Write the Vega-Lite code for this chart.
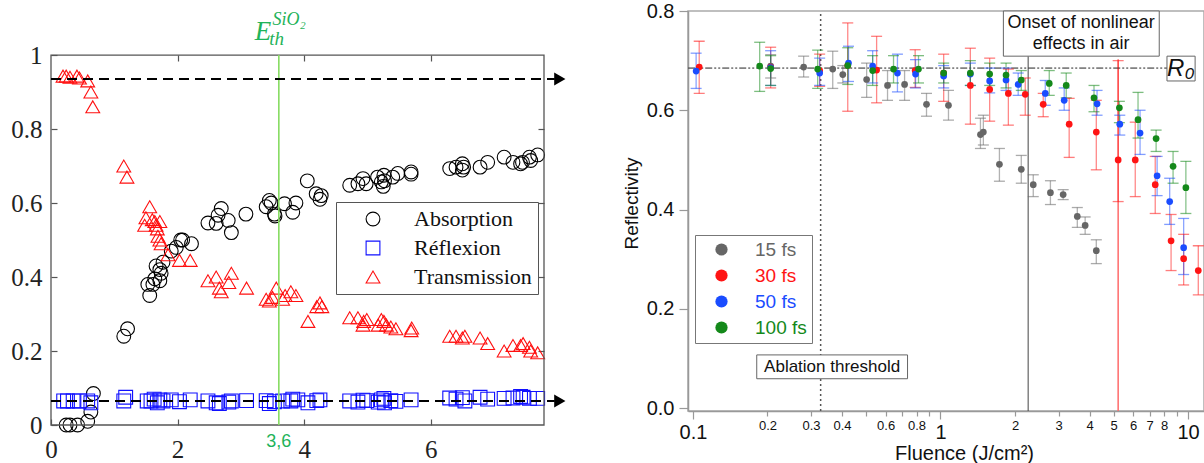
{
"$schema": "https://vega.github.io/schema/vega-lite/v6.json",
"padding": {"left": 10, "top": 0, "right": 0, "bottom": 0},
"spacing": 55,
"background": "white",
"config": {"font": "Liberation Sans"},
"datasets": {
"left": [
{"s":"Absorption","x":0.24,"y":0},{"s":"Absorption","x":0.3,"y":0},{"s":"Absorption","x":0.42,"y":0},{"s":"Absorption","x":0.58,"y":0.01},{"s":"Absorption","x":0.63,"y":0.035},{"s":"Absorption","x":0.67,"y":0.085},
{"s":"Absorption","x":1.15,"y":0.24},{"s":"Absorption","x":1.21,"y":0.26},
{"s":"Absorption","x":1.53,"y":0.38},{"s":"Absorption","x":1.56,"y":0.35},{"s":"Absorption","x":1.61,"y":0.38},{"s":"Absorption","x":1.64,"y":0.395},{"s":"Absorption","x":1.66,"y":0.43},{"s":"Absorption","x":1.72,"y":0.42},{"s":"Absorption","x":1.74,"y":0.41},{"s":"Absorption","x":1.77,"y":0.44},{"s":"Absorption","x":1.72,"y":0.39},{"s":"Absorption","x":1.9,"y":0.47},{"s":"Absorption","x":1.98,"y":0.48},{"s":"Absorption","x":2.05,"y":0.5},{"s":"Absorption","x":2.08,"y":0.5},{"s":"Absorption","x":2.22,"y":0.49},
{"s":"Absorption","x":2.48,"y":0.546},{"s":"Absorption","x":2.61,"y":0.545},{"s":"Absorption","x":2.64,"y":0.567},{"s":"Absorption","x":2.69,"y":0.585},{"s":"Absorption","x":2.8,"y":0.553},{"s":"Absorption","x":2.85,"y":0.52},{"s":"Absorption","x":3.08,"y":0.57},
{"s":"Absorption","x":3.4,"y":0.59},{"s":"Absorption","x":3.45,"y":0.607},{"s":"Absorption","x":3.48,"y":0.6},{"s":"Absorption","x":3.53,"y":0.57},{"s":"Absorption","x":3.54,"y":0.565},{"s":"Absorption","x":3.69,"y":0.598},{"s":"Absorption","x":3.82,"y":0.575},{"s":"Absorption","x":3.87,"y":0.6},
{"s":"Absorption","x":4.05,"y":0.66},{"s":"Absorption","x":4.19,"y":0.625},{"s":"Absorption","x":4.25,"y":0.61},{"s":"Absorption","x":4.27,"y":0.62},
{"s":"Absorption","x":4.72,"y":0.648},{"s":"Absorption","x":4.85,"y":0.652},{"s":"Absorption","x":4.93,"y":0.666},{"s":"Absorption","x":4.98,"y":0.652},{"s":"Absorption","x":5.16,"y":0.67},{"s":"Absorption","x":5.22,"y":0.657},{"s":"Absorption","x":5.26,"y":0.675},{"s":"Absorption","x":5.27,"y":0.66},{"s":"Absorption","x":5.25,"y":0.645},{"s":"Absorption","x":5.4,"y":0.67},{"s":"Absorption","x":5.48,"y":0.68},{"s":"Absorption","x":5.69,"y":0.684},{"s":"Absorption","x":5.69,"y":0.678},
{"s":"Absorption","x":6.3,"y":0.693},{"s":"Absorption","x":6.4,"y":0.697},{"s":"Absorption","x":6.5,"y":0.706},{"s":"Absorption","x":6.5,"y":0.689},{"s":"Absorption","x":6.52,"y":0.697},{"s":"Absorption","x":6.78,"y":0.697},{"s":"Absorption","x":6.9,"y":0.71},{"s":"Absorption","x":7.16,"y":0.724},{"s":"Absorption","x":7.3,"y":0.71},{"s":"Absorption","x":7.42,"y":0.706},{"s":"Absorption","x":7.45,"y":0.71},{"s":"Absorption","x":7.56,"y":0.724},{"s":"Absorption","x":7.58,"y":0.715},{"s":"Absorption","x":7.69,"y":0.73},
{"s":"Réflexion","x":0.2,"y":0.065},{"s":"Réflexion","x":0.26,"y":0.065},{"s":"Réflexion","x":0.35,"y":0.065},{"s":"Réflexion","x":0.45,"y":0.065},{"s":"Réflexion","x":0.58,"y":0.065},{"s":"Réflexion","x":0.63,"y":0.06},{"s":"Réflexion","x":1.18,"y":0.075},{"s":"Réflexion","x":1.15,"y":0.065},{"s":"Réflexion","x":1.52,"y":0.065},{"s":"Réflexion","x":1.58,"y":0.065},{"s":"Réflexion","x":1.63,"y":0.07},{"s":"Réflexion","x":1.68,"y":0.06},{"s":"Réflexion","x":1.72,"y":0.068},{"s":"Réflexion","x":1.77,"y":0.065},{"s":"Réflexion","x":1.9,"y":0.068},{"s":"Réflexion","x":2.03,"y":0.063},{"s":"Réflexion","x":2.2,"y":0.068},{"s":"Réflexion","x":2.48,"y":0.065},{"s":"Réflexion","x":2.61,"y":0.06},{"s":"Réflexion","x":2.66,"y":0.058},{"s":"Réflexion","x":2.81,"y":0.062},{"s":"Réflexion","x":2.85,"y":0.065},{"s":"Réflexion","x":3.09,"y":0.066},{"s":"Réflexion","x":3.4,"y":0.066},{"s":"Réflexion","x":3.45,"y":0.058},{"s":"Réflexion","x":3.53,"y":0.063},{"s":"Réflexion","x":3.66,"y":0.065},{"s":"Réflexion","x":3.82,"y":0.07},{"s":"Réflexion","x":3.79,"y":0.065},{"s":"Réflexion","x":3.9,"y":0.068},{"s":"Réflexion","x":4.06,"y":0.06},{"s":"Réflexion","x":4.2,"y":0.066},{"s":"Réflexion","x":4.25,"y":0.068},{"s":"Réflexion","x":4.72,"y":0.065},{"s":"Réflexion","x":4.85,"y":0.062},{"s":"Réflexion","x":4.93,"y":0.067},{"s":"Réflexion","x":4.99,"y":0.066},{"s":"Réflexion","x":5.17,"y":0.062},{"s":"Réflexion","x":5.22,"y":0.068},{"s":"Réflexion","x":5.26,"y":0.072},{"s":"Réflexion","x":5.27,"y":0.06},{"s":"Réflexion","x":5.37,"y":0.066},{"s":"Réflexion","x":5.45,"y":0.064},{"s":"Réflexion","x":5.69,"y":0.068},{"s":"Réflexion","x":6.3,"y":0.073},{"s":"Réflexion","x":6.4,"y":0.07},{"s":"Réflexion","x":6.5,"y":0.074},{"s":"Réflexion","x":6.54,"y":0.065},{"s":"Réflexion","x":6.78,"y":0.075},{"s":"Réflexion","x":6.9,"y":0.07},{"s":"Réflexion","x":7.16,"y":0.072},{"s":"Réflexion","x":7.3,"y":0.073},{"s":"Réflexion","x":7.42,"y":0.077},{"s":"Réflexion","x":7.46,"y":0.075},{"s":"Réflexion","x":7.56,"y":0.072},{"s":"Réflexion","x":7.69,"y":0.072},
{"s":"Transmission","x":0.19,"y":0.943},{"s":"Transmission","x":0.24,"y":0.943},{"s":"Transmission","x":0.3,"y":0.94},{"s":"Transmission","x":0.41,"y":0.943},{"s":"Transmission","x":0.45,"y":0.938},{"s":"Transmission","x":0.58,"y":0.93},{"s":"Transmission","x":0.63,"y":0.9},{"s":"Transmission","x":0.66,"y":0.86},
{"s":"Transmission","x":1.15,"y":0.7},{"s":"Transmission","x":1.2,"y":0.67},
{"s":"Transmission","x":1.56,"y":0.59},{"s":"Transmission","x":1.5,"y":0.56},{"s":"Transmission","x":1.6,"y":0.555},{"s":"Transmission","x":1.64,"y":0.55},{"s":"Transmission","x":1.72,"y":0.55},{"s":"Transmission","x":1.68,"y":0.53},{"s":"Transmission","x":1.48,"y":0.54},{"s":"Transmission","x":1.66,"y":0.54},{"s":"Transmission","x":1.69,"y":0.51},{"s":"Transmission","x":1.72,"y":0.5},{"s":"Transmission","x":1.74,"y":0.49},{"s":"Transmission","x":1.85,"y":0.46},{"s":"Transmission","x":2.03,"y":0.445},{"s":"Transmission","x":2.2,"y":0.445},
{"s":"Transmission","x":2.48,"y":0.39},{"s":"Transmission","x":2.61,"y":0.4},{"s":"Transmission","x":2.66,"y":0.37},{"s":"Transmission","x":2.69,"y":0.36},{"s":"Transmission","x":2.81,"y":0.385},{"s":"Transmission","x":2.85,"y":0.41},{"s":"Transmission","x":3.09,"y":0.37},
{"s":"Transmission","x":3.4,"y":0.34},{"s":"Transmission","x":3.45,"y":0.335},{"s":"Transmission","x":3.5,"y":0.345},{"s":"Transmission","x":3.56,"y":0.37},{"s":"Transmission","x":3.66,"y":0.34},{"s":"Transmission","x":3.79,"y":0.36},{"s":"Transmission","x":3.87,"y":0.35},{"s":"Transmission","x":3.7,"y":0.35},
{"s":"Transmission","x":4.06,"y":0.28},{"s":"Transmission","x":4.2,"y":0.32},{"s":"Transmission","x":4.25,"y":0.33},{"s":"Transmission","x":4.28,"y":0.32},
{"s":"Transmission","x":4.72,"y":0.29},{"s":"Transmission","x":4.85,"y":0.29},{"s":"Transmission","x":4.94,"y":0.28},{"s":"Transmission","x":4.99,"y":0.285},{"s":"Transmission","x":4.93,"y":0.27},{"s":"Transmission","x":5.17,"y":0.27},{"s":"Transmission","x":5.22,"y":0.285},{"s":"Transmission","x":5.26,"y":0.28},{"s":"Transmission","x":5.3,"y":0.27},{"s":"Transmission","x":5.37,"y":0.265},{"s":"Transmission","x":5.45,"y":0.26},{"s":"Transmission","x":5.69,"y":0.255},{"s":"Transmission","x":5.7,"y":0.262},
{"s":"Transmission","x":6.3,"y":0.24},{"s":"Transmission","x":6.4,"y":0.24},{"s":"Transmission","x":6.5,"y":0.235},{"s":"Transmission","x":6.54,"y":0.24},{"s":"Transmission","x":6.78,"y":0.235},{"s":"Transmission","x":6.9,"y":0.22},{"s":"Transmission","x":7.16,"y":0.2},{"s":"Transmission","x":7.3,"y":0.215},{"s":"Transmission","x":7.42,"y":0.215},{"s":"Transmission","x":7.46,"y":0.22},{"s":"Transmission","x":7.56,"y":0.21},{"s":"Transmission","x":7.58,"y":0.2},{"s":"Transmission","x":7.69,"y":0.195}
],
"refl": [
{"d":"15 fs","f":0.206,"r":0.689,"lo":0.665,"hi":0.712},{"d":"15 fs","f":0.28,"r":0.687,"lo":0.667,"hi":0.709},{"d":"15 fs","f":0.367,"r":0.683,"lo":0.644,"hi":0.719},{"d":"15 fs","f":0.403,"r":0.672,"lo":0.655,"hi":0.69},{"d":"15 fs","f":0.503,"r":0.662,"lo":0.626,"hi":0.695},{"d":"15 fs","f":0.611,"r":0.65,"lo":0.62,"hi":0.68},{"d":"15 fs","f":0.716,"r":0.652,"lo":0.62,"hi":0.68},{"d":"15 fs","f":0.878,"r":0.612,"lo":0.588,"hi":0.634},{"d":"15 fs","f":1.077,"r":0.61,"lo":0.58,"hi":0.64},{"d":"15 fs","f":1.45,"r":0.551,"lo":0.523,"hi":0.584},{"d":"15 fs","f":1.49,"r":0.556,"lo":0.53,"hi":0.59},{"d":"15 fs","f":1.73,"r":0.491,"lo":0.457,"hi":0.523},{"d":"15 fs","f":2.12,"r":0.481,"lo":0.453,"hi":0.509},{"d":"15 fs","f":2.37,"r":0.45,"lo":0.426,"hi":0.47},{"d":"15 fs","f":2.78,"r":0.434,"lo":0.41,"hi":0.458},{"d":"15 fs","f":3.13,"r":0.43,"lo":0.42,"hi":0.44},{"d":"15 fs","f":3.57,"r":0.386,"lo":0.364,"hi":0.404},{"d":"15 fs","f":3.84,"r":0.368,"lo":0.35,"hi":0.385},{"d":"15 fs","f":4.26,"r":0.317,"lo":0.291,"hi":0.339},
{"d":"30 fs","f":0.106,"r":0.687,"lo":0.634,"hi":0.739},{"d":"30 fs","f":0.206,"r":0.687,"lo":0.645,"hi":0.727},{"d":"30 fs","f":0.325,"r":0.68,"lo":0.648,"hi":0.713},{"d":"30 fs","f":0.422,"r":0.69,"lo":0.598,"hi":0.776},{"d":"30 fs","f":0.552,"r":0.681,"lo":0.615,"hi":0.749},{"d":"30 fs","f":0.79,"r":0.68,"lo":0.646,"hi":0.722},{"d":"30 fs","f":1.03,"r":0.675,"lo":0.618,"hi":0.713},{"d":"30 fs","f":1.32,"r":0.65,"lo":0.572,"hi":0.725},{"d":"30 fs","f":1.58,"r":0.642,"lo":0.578,"hi":0.705},{"d":"30 fs","f":1.88,"r":0.634,"lo":0.57,"hi":0.683},{"d":"30 fs","f":2.2,"r":0.632,"lo":0.59,"hi":0.665},{"d":"30 fs","f":2.6,"r":0.612,"lo":0.587,"hi":0.634},{"d":"30 fs","f":3.31,"r":0.572,"lo":0.505,"hi":0.624},{"d":"30 fs","f":4.26,"r":0.556,"lo":0.48,"hi":0.62},{"d":"30 fs","f":5.22,"r":0.5,"lo":0.416,"hi":0.7},{"d":"30 fs","f":6.12,"r":0.5,"lo":0.426,"hi":0.576},{"d":"30 fs","f":7.37,"r":0.45,"lo":0.392,"hi":0.507},{"d":"30 fs","f":8.54,"r":0.337,"lo":0.277,"hi":0.39},{"d":"30 fs","f":9.6,"r":0.301,"lo":0.248,"hi":0.35},{"d":"30 fs","f":11.0,"r":0.277,"lo":0.228,"hi":0.327},
{"d":"50 fs","f":0.103,"r":0.679,"lo":0.644,"hi":0.715},{"d":"50 fs","f":0.206,"r":0.686,"lo":0.65,"hi":0.72},{"d":"50 fs","f":0.325,"r":0.675,"lo":0.65,"hi":0.705},{"d":"50 fs","f":0.425,"r":0.695,"lo":0.658,"hi":0.729},{"d":"50 fs","f":0.532,"r":0.689,"lo":0.655,"hi":0.72},{"d":"50 fs","f":0.67,"r":0.675,"lo":0.637,"hi":0.713},{"d":"50 fs","f":0.793,"r":0.673,"lo":0.645,"hi":0.702},{"d":"50 fs","f":1.03,"r":0.669,"lo":0.645,"hi":0.69},{"d":"50 fs","f":1.32,"r":0.673,"lo":0.65,"hi":0.695},{"d":"50 fs","f":1.58,"r":0.659,"lo":0.635,"hi":0.685},{"d":"50 fs","f":1.84,"r":0.661,"lo":0.64,"hi":0.685},{"d":"50 fs","f":2.06,"r":0.652,"lo":0.63,"hi":0.675},{"d":"50 fs","f":2.65,"r":0.634,"lo":0.61,"hi":0.66},{"d":"50 fs","f":3.16,"r":0.62,"lo":0.6,"hi":0.645},{"d":"50 fs","f":4.29,"r":0.613,"lo":0.59,"hi":0.64},{"d":"50 fs","f":5.3,"r":0.572,"lo":0.55,"hi":0.59},{"d":"50 fs","f":6.4,"r":0.554,"lo":0.511,"hi":0.6},{"d":"50 fs","f":7.5,"r":0.468,"lo":0.428,"hi":0.507},{"d":"50 fs","f":8.43,"r":0.416,"lo":0.37,"hi":0.463},{"d":"50 fs","f":9.6,"r":0.323,"lo":0.269,"hi":0.382},
{"d":"100 fs","f":0.186,"r":0.689,"lo":0.638,"hi":0.737},{"d":"100 fs","f":0.206,"r":0.684,"lo":0.65,"hi":0.71},{"d":"100 fs","f":0.319,"r":0.683,"lo":0.644,"hi":0.721},{"d":"100 fs","f":0.422,"r":0.69,"lo":0.652,"hi":0.726},{"d":"100 fs","f":0.532,"r":0.68,"lo":0.65,"hi":0.71},{"d":"100 fs","f":0.646,"r":0.683,"lo":0.655,"hi":0.71},{"d":"100 fs","f":0.815,"r":0.683,"lo":0.655,"hi":0.71},{"d":"100 fs","f":1.03,"r":0.675,"lo":0.655,"hi":0.695},{"d":"100 fs","f":1.32,"r":0.675,"lo":0.65,"hi":0.7},{"d":"100 fs","f":1.58,"r":0.673,"lo":0.65,"hi":0.695},{"d":"100 fs","f":1.84,"r":0.671,"lo":0.645,"hi":0.695},{"d":"100 fs","f":2.12,"r":0.661,"lo":0.64,"hi":0.68},{"d":"100 fs","f":2.75,"r":0.654,"lo":0.63,"hi":0.68},{"d":"100 fs","f":3.22,"r":0.65,"lo":0.625,"hi":0.675},{"d":"100 fs","f":4.17,"r":0.625,"lo":0.597,"hi":0.65},{"d":"100 fs","f":5.28,"r":0.605,"lo":0.575,"hi":0.618},{"d":"100 fs","f":6.28,"r":0.581,"lo":0.544,"hi":0.636},{"d":"100 fs","f":7.43,"r":0.543,"lo":0.517,"hi":0.56},{"d":"100 fs","f":8.7,"r":0.487,"lo":0.453,"hi":0.517},{"d":"100 fs","f":9.8,"r":0.444,"lo":0.392,"hi":0.497}
]
},
"resolve": {"scale": {"color": "independent", "shape": "independent", "size": "independent"}, "legend": {"color": "independent", "shape": "independent"}},
"hconcat": [
{
"width": 493, "height": 414,
"view": {"stroke": null},
"resolve": {"axis": {"x": "independent", "y": "independent"}},
"layer": [
{
"data": {"name": "left"},
"mark": {"type": "point", "filled": false, "size": 190, "strokeWidth": 1.1, "opacity": 1, "clip": false},
"encoding": {
"x": {"field": "x", "type": "quantitative", "scale": {"domain": [0, 7.79], "nice": false, "zero": false},
"axis": {"orient": "bottom", "values": [0, 2, 4, 6], "format": "d", "domain": false, "grid": false, "tickSize": -6, "tickColor": "#555", "tickWidth": 1.2, "labelFont": "Liberation Serif", "labelFontSize": 25, "labelColor": "#222", "labelPadding": 18, "labelFlush": false, "title": null}},
"y": {"field": "y", "type": "quantitative", "scale": {"domain": [0, 1.119], "nice": false, "zero": false},
"axis": {"orient": "left", "values": [0, 0.2, 0.4, 0.6, 0.8, 1], "labelExpr": "datum.value == 0 ? '0' : datum.value == 1 ? '1' : format(datum.value, '.1f')", "domain": false, "grid": false, "tickSize": -6, "tickColor": "#555", "tickWidth": 1.2, "labelFont": "Liberation Serif", "labelFontSize": 25, "labelColor": "#222", "labelPadding": 15, "labelFlush": false, "title": null}},
"color": {"field": "s", "type": "nominal", "scale": {"domain": ["Absorption", "Réflexion", "Transmission"], "range": ["#000000", "#1010ff", "#ff1010"]},
"legend": {"orient": "none", "legendX": 285, "legendY": 191, "title": null, "strokeColor": "#555", "fillColor": "white", "padding": 6, "labelFont": "Liberation Serif", "labelFontSize": 22, "labelColor": "#111", "rowPadding": 7, "symbolOffset": 20, "labelOffset": 30, "symbolSize": 190, "symbolStrokeWidth": 1.1}},
"shape": {"field": "s", "type": "nominal", "scale": {"domain": ["Absorption", "Réflexion", "Transmission"], "range": ["circle", "square", "triangle-up"]}}
}
},
{
"data": {"values": [{"x0": 0, "x1": 7.79, "y0": 0, "y1": 1}]},
"mark": {"type": "rect", "fillOpacity": 0, "stroke": "#555", "strokeWidth": 1.3},
"encoding": {
"x": {"field": "x0", "type": "quantitative", "scale": {"domain": [0, 7.79], "nice": false, "zero": false},
"axis": {"orient": "top", "offset": -44, "values": [2, 4, 6], "labels": false, "domain": false, "grid": false, "tickSize": -6, "tickColor": "#555", "tickWidth": 1.2, "title": null}},
"x2": {"field": "x1"},
"y": {"field": "y0", "type": "quantitative", "scale": {"domain": [0, 1.119], "nice": false, "zero": false},
"axis": {"orient": "right", "values": [0.2, 0.4, 0.6, 0.8], "labels": false, "domain": false, "grid": false, "tickSize": -6, "tickColor": "#555", "tickWidth": 1.2, "title": null}},
"y2": {"field": "y1"}
}
},
{
"data": {"values": [{"x": 3.6}]},
"mark": {"type": "rule", "color": "#86dc62", "strokeWidth": 1.6},
"encoding": {"x": {"field": "x", "type": "quantitative", "axis": null}, "y": {"datum": 0, "axis": null}, "y2": {"datum": 1}}
},
{
"data": {"values": [{"y": 0.935}, {"y": 0.065}]},
"mark": {"type": "rule", "color": "#000", "strokeWidth": 2, "strokeDash": [10, 6], "clip": false},
"encoding": {"x": {"datum": 0, "axis": null}, "x2": {"datum": 7.96}, "y": {"field": "y", "type": "quantitative", "axis": null}}
},
{
"data": {"values": [{"y": 0.935}, {"y": 0.065}]},
"mark": {"type": "point", "shape": "triangle-right", "filled": true, "color": "#000", "size": 170, "opacity": 1, "clip": false},
"encoding": {"x": {"datum": 8.04, "axis": null}, "y": {"field": "y", "type": "quantitative", "axis": null}}
},
{
"data": {"values": [{"x": 3.6, "y": -0.046, "t": "3,6"}]},
"mark": {"type": "text", "font": "Liberation Sans", "fontSize": 18, "color": "#1fb35a", "align": "center", "baseline": "middle", "clip": false},
"encoding": {"x": {"field": "x", "type": "quantitative", "axis": null}, "y": {"field": "y", "type": "quantitative", "axis": null}, "text": {"field": "t"}}
},
{
"data": {"values": [{"x": 3.22, "y": 1.041, "t": "E"}]},
"mark": {"type": "text", "font": "Liberation Serif", "fontStyle": "italic", "fontSize": 27, "color": "#1fb35a", "align": "left", "baseline": "alphabetic", "clip": false},
"encoding": {"x": {"field": "x", "type": "quantitative", "axis": null}, "y": {"field": "y", "type": "quantitative", "axis": null}, "text": {"field": "t"}}
},
{
"data": {"values": [{"x": 3.45, "y": 1.027, "t": "th"}]},
"mark": {"type": "text", "font": "Liberation Serif", "fontStyle": "italic", "fontSize": 19, "color": "#1fb35a", "align": "left", "baseline": "alphabetic", "clip": false},
"encoding": {"x": {"field": "x", "type": "quantitative", "axis": null}, "y": {"field": "y", "type": "quantitative", "axis": null}, "text": {"field": "t"}}
},
{
"data": {"values": [{"x": 3.5, "y": 1.08, "t": "SiO₂"}]},
"mark": {"type": "text", "font": "Liberation Serif", "fontStyle": "italic", "fontSize": 18, "color": "#1fb35a", "align": "left", "baseline": "alphabetic", "clip": false},
"encoding": {"x": {"field": "x", "type": "quantitative", "axis": null}, "y": {"field": "y", "type": "quantitative", "axis": null}, "text": {"field": "t"}}
}
]
},
{
"width": 516, "height": 400,
"view": {"stroke": "#aaaaaa", "strokeWidth": 1.5},
"resolve": {"axis": {"x": "independent", "y": "independent"}, "legend": {"color": "independent"}},
"layer": [
{
"data": {"values": [{"f": 0.328}]},
"mark": {"type": "rule", "color": "#555", "strokeWidth": 1.5, "strokeDash": [2, 3]},
"encoding": {"x": {"field": "f", "type": "quantitative", "scale": {"type": "log", "domain": [0.0955, 11.6], "nice": false}, "axis": null}, "y": {"datum": -0.006, "scale": {"domain": [-0.006, 0.8], "nice": false, "zero": false}, "axis": null}, "y2": {"datum": 0.8}}
},
{
"data": {"values": [{"f": 2.26}]},
"mark": {"type": "rule", "color": "#444", "strokeWidth": 1},
"encoding": {"x": {"field": "f", "type": "quantitative", "axis": null}, "y": {"datum": -0.006, "axis": null}, "y2": {"datum": 0.709}}
},
{
"data": {"values": [{"f": 5.22}]},
"mark": {"type": "rule", "color": "#ff6a6a", "strokeWidth": 1.5},
"encoding": {"x": {"field": "f", "type": "quantitative", "axis": null}, "y": {"datum": -0.006, "axis": null}, "y2": {"datum": 0.703}}
},
{
"data": {"values": [{"f0": 0.0957, "f1": 8.22, "r": 0.685}]},
"mark": {"type": "rule", "color": "#222", "strokeWidth": 1, "strokeDash": [7, 2, 2, 2, 2, 2]},
"encoding": {"x": {"field": "f0", "type": "quantitative", "axis": null}, "x2": {"field": "f1"}, "y": {"field": "r", "type": "quantitative", "axis": null}}
},
{
"data": {"name": "refl"},
"mark": {"type": "rule", "strokeWidth": 1.3, "opacity": 0.5},
"encoding": {"x": {"field": "f", "type": "quantitative", "axis": null}, "y": {"field": "lo", "type": "quantitative", "axis": null}, "y2": {"field": "hi"}, "color": {"field": "d", "type": "nominal", "legend": null}}
},
{
"data": {"name": "refl"},
"mark": {"type": "tick", "orient": "horizontal", "size": 11, "thickness": 1.3, "opacity": 0.55},
"encoding": {"x": {"field": "f", "type": "quantitative", "axis": null}, "y": {"field": "lo", "type": "quantitative", "axis": null}, "color": {"field": "d", "type": "nominal", "legend": null}}
},
{
"data": {"name": "refl"},
"mark": {"type": "tick", "orient": "horizontal", "size": 11, "thickness": 1.3, "opacity": 0.55},
"encoding": {"x": {"field": "f", "type": "quantitative", "axis": null}, "y": {"field": "hi", "type": "quantitative", "axis": null}, "color": {"field": "d", "type": "nominal", "legend": null}}
},
{
"data": {"name": "refl"},
"mark": {"type": "circle", "size": 45, "opacity": 1},
"encoding": {
"x": {"field": "f", "type": "quantitative", "title": "Fluence (J/cm²)",
"axis": {"values": [0.1, 0.2, 0.3, 0.4, 0.5, 0.6, 0.7, 0.8, 0.9, 1, 2, 3, 4, 5, 6, 7, 8, 9, 10], "labelExpr": "(datum.value == 0.5 || datum.value == 0.7 || datum.value == 0.9 || datum.value == 9) ? '' : format(datum.value, '~g')", "labelOverlap": false, "labelFlush": false, "grid": false, "domainColor": "#999", "domainWidth": 1.5, "tickColor": "#999", "tickWidth": 1.2, "tickSize": {"condition": {"test": "datum.value == 0.1 || datum.value == 1 || datum.value == 10", "value": 8}, "value": 5}, "labelFont": "Liberation Sans", "labelColor": "#111", "labelFontSize": {"condition": {"test": "datum.value == 0.1 || datum.value == 1 || datum.value == 10", "value": 20}, "value": 13}, "labelPadding": 3, "titleFont": "Liberation Sans", "titleFontSize": 20, "titleFontWeight": "normal", "titleColor": "#111", "titleX": 276, "titleY": 32, "titleAlign": "center", "titleBaseline": "top"}},
"y": {"field": "r", "type": "quantitative", "title": "Reflectivity",
"axis": {"values": [0, 0.2, 0.4, 0.6, 0.8], "format": ".1f", "grid": false, "domainColor": "#999", "domainWidth": 1.5, "tickColor": "#999", "tickWidth": 1.2, "tickSize": 9, "labelFont": "Liberation Sans", "labelFontSize": 20, "labelColor": "#111", "labelPadding": 5, "titleFont": "Liberation Sans", "titleFontSize": 19, "titleFontWeight": "normal", "titleColor": "#111", "titleX": -51, "titleY": 192, "titleAlign": "center", "titleBaseline": "alphabetic"}},
"color": {"field": "d", "type": "nominal", "scale": {"domain": ["15 fs", "30 fs", "50 fs", "100 fs"], "range": ["#666666", "#ff1414", "#1a4cff", "#14891a"]},
"legend": {"orient": "none", "legendX": 7, "legendY": 224, "title": null, "strokeColor": "#777", "fillColor": "white", "padding": 5, "symbolType": "circle", "symbolSize": 150, "symbolOffset": 12, "labelOffset": 24, "labelFont": "Liberation Sans", "labelFontSize": 19, "rowPadding": 6,
"labelColor": {"expr": "datum.value === '15 fs' ? '#666666' : datum.value === '30 fs' ? '#ff1414' : datum.value === '50 fs' ? '#1a4cff' : '#14891a'"}}}
}
},
{
"data": {"values": [{"a": 0.181, "b": 0.736, "lo": 0.059, "hi": 0.107}]},
"mark": {"type": "rect", "fill": "white", "stroke": "#666", "strokeWidth": 1},
"encoding": {"x": {"field": "a", "type": "quantitative", "axis": null}, "x2": {"field": "b"}, "y": {"field": "lo", "type": "quantitative", "axis": null}, "y2": {"field": "hi"}}
},
{
"data": {"values": [{"f": 0.365, "r": 0.083, "t": "Ablation threshold"}]},
"mark": {"type": "text", "fontSize": 17, "font": "Liberation Sans", "color": "#111", "align": "center", "baseline": "middle"},
"encoding": {"x": {"field": "f", "type": "quantitative", "axis": null}, "y": {"field": "r", "type": "quantitative", "axis": null}, "text": {"field": "t"}}
},
{
"data": {"values": [{"a": 1.795, "b": 7.65, "lo": 0.709, "hi": 0.8}]},
"mark": {"type": "rect", "fill": "white", "stroke": "#666", "strokeWidth": 1},
"encoding": {"x": {"field": "a", "type": "quantitative", "axis": null}, "x2": {"field": "b"}, "y": {"field": "lo", "type": "quantitative", "axis": null}, "y2": {"field": "hi"}}
},
{
"data": {"values": [{"f": 3.7, "r": 0.776, "t": "Onset of nonlinear"}, {"f": 3.7, "r": 0.733, "t": "effects in air"}]},
"mark": {"type": "text", "fontSize": 18, "font": "Liberation Sans", "color": "#111", "align": "center", "baseline": "middle"},
"encoding": {"x": {"field": "f", "type": "quantitative", "axis": null}, "y": {"field": "r", "type": "quantitative", "axis": null}, "text": {"field": "t"}}
},
{
"data": {"values": [{"a": 8.22, "b": 10.68, "lo": 0.659, "hi": 0.709}]},
"mark": {"type": "rect", "fill": "white", "stroke": "#666", "strokeWidth": 1},
"encoding": {"x": {"field": "a", "type": "quantitative", "axis": null}, "x2": {"field": "b"}, "y": {"field": "lo", "type": "quantitative", "axis": null}, "y2": {"field": "hi"}}
},
{
"data": {"values": [{"f": 9.35, "r": 0.683, "t": "R₀"}]},
"mark": {"type": "text", "fontSize": 24, "font": "Liberation Sans", "fontStyle": "italic", "color": "#111", "align": "center", "baseline": "middle"},
"encoding": {"x": {"field": "f", "type": "quantitative", "axis": null}, "y": {"field": "r", "type": "quantitative", "axis": null}, "text": {"field": "t"}}
}
]
}
]
}
